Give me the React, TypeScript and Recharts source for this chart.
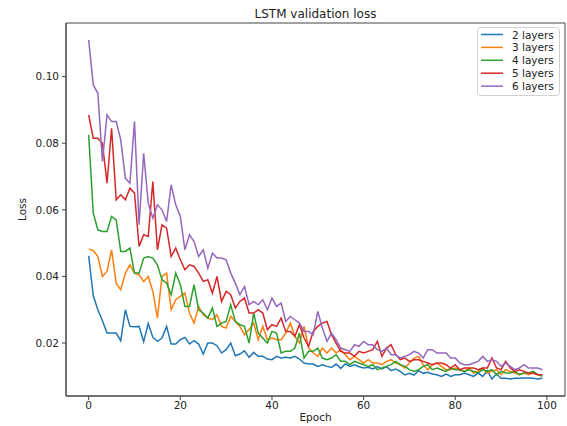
import React from 'react';
import { LineChart, Line, XAxis, YAxis, ReferenceArea, Label, Customized } from 'recharts';

const epochs: number[] = Array.from({ length: 100 }, (_, i) => i);

const layers2 = [
  0.0462, 0.0342, 0.030, 0.0267, 0.023, 0.023, 0.023, 0.0207, 0.030, 0.025,
  0.0249, 0.025, 0.0204, 0.0259, 0.0217, 0.0205, 0.0215, 0.025, 0.0197, 0.0197,
  0.021, 0.0217, 0.0197, 0.0207, 0.0197, 0.0167, 0.020, 0.020, 0.0192, 0.017,
  0.018, 0.020, 0.0162, 0.0167, 0.0177, 0.0157, 0.0172, 0.016, 0.016, 0.0152,
  0.015, 0.016, 0.0155, 0.0157, 0.0155, 0.016, 0.0152, 0.014, 0.0137, 0.0137,
  0.013, 0.0135, 0.013, 0.0127, 0.0137, 0.0124, 0.0137, 0.013, 0.0135, 0.0129,
  0.0125, 0.0127, 0.0122, 0.0129, 0.0122, 0.0129, 0.0117, 0.0122, 0.0115, 0.0104,
  0.0109, 0.0104, 0.0117, 0.0109, 0.0112, 0.0107, 0.0105, 0.010, 0.0107, 0.010,
  0.0105, 0.0105, 0.011, 0.0105, 0.010, 0.011, 0.010, 0.0117, 0.0092, 0.0107,
  0.0094, 0.0094, 0.0092, 0.0094, 0.0094, 0.0095, 0.0095, 0.0094, 0.0092, 0.0094,
];

const layers3 = [
  0.0482, 0.0478, 0.046, 0.040, 0.0415, 0.048, 0.038, 0.036, 0.041, 0.0435,
  0.041, 0.0405, 0.0385, 0.040, 0.0355, 0.0275, 0.040, 0.041, 0.030, 0.033,
  0.034, 0.035, 0.029, 0.026, 0.031, 0.0285, 0.0275, 0.027, 0.0285, 0.025,
  0.0245, 0.028, 0.0265, 0.025, 0.0225, 0.024, 0.026, 0.021, 0.025, 0.021,
  0.0215, 0.021, 0.021, 0.023, 0.026, 0.022, 0.020, 0.025, 0.0185, 0.017,
  0.016, 0.0185, 0.017, 0.0185, 0.017, 0.018, 0.0165, 0.015, 0.016, 0.015,
  0.014, 0.015, 0.014, 0.014, 0.0135, 0.0145, 0.015, 0.014, 0.0135, 0.0125,
  0.014, 0.0155, 0.016, 0.0135, 0.012, 0.0135, 0.014, 0.013, 0.012, 0.012,
  0.0125, 0.012, 0.0115, 0.0125, 0.011, 0.0115, 0.0125, 0.011, 0.0115, 0.012,
  0.0105, 0.012, 0.0115, 0.011, 0.0105, 0.011, 0.0105, 0.011, 0.0105, 0.0105,
];

const layers4 = [
  0.0825, 0.059, 0.054, 0.0535, 0.0535, 0.058, 0.057, 0.0475, 0.0475, 0.0485,
  0.041, 0.041, 0.0455, 0.046, 0.0455, 0.0435, 0.039, 0.038, 0.0345, 0.041,
  0.0375, 0.031, 0.031, 0.0375, 0.030, 0.029, 0.0275, 0.0305, 0.025, 0.026,
  0.0265, 0.0315, 0.0265, 0.0255, 0.025, 0.020, 0.029, 0.023, 0.0215, 0.020,
  0.0235, 0.023, 0.017, 0.0175, 0.0175, 0.0185, 0.023, 0.0155, 0.0175, 0.0175,
  0.0185, 0.0155, 0.015, 0.0155, 0.0165, 0.0145, 0.0145, 0.0135, 0.0145, 0.014,
  0.0135, 0.013, 0.0135, 0.012, 0.0125, 0.013, 0.0135, 0.0145, 0.0135, 0.013,
  0.012, 0.0115, 0.012, 0.013, 0.0135, 0.012, 0.0125, 0.012, 0.0115, 0.0125,
  0.012, 0.012, 0.0115, 0.012, 0.0115, 0.011, 0.012, 0.0115, 0.012, 0.0105,
  0.0115, 0.011, 0.011, 0.0115, 0.0105, 0.011, 0.011, 0.0115, 0.0105, 0.010,
];

const layers5 = [
  0.0885, 0.0815, 0.0815, 0.080, 0.068, 0.0845, 0.063, 0.0645, 0.063, 0.0665,
  0.065, 0.049, 0.0525, 0.052, 0.0685, 0.048, 0.0555, 0.0545, 0.046, 0.0485,
  0.045, 0.042, 0.0435, 0.043, 0.041, 0.0385, 0.039, 0.035, 0.040, 0.0325,
  0.0355, 0.0345, 0.0305, 0.0325, 0.0335, 0.029, 0.029, 0.030, 0.029, 0.024,
  0.0255, 0.025, 0.0275, 0.0235, 0.0235, 0.022, 0.0255, 0.0215, 0.019, 0.0235,
  0.025, 0.026, 0.0265, 0.0225, 0.020, 0.0175, 0.017, 0.017, 0.016, 0.0175,
  0.017, 0.0175, 0.018, 0.0205, 0.016, 0.0185, 0.0195, 0.0165, 0.015, 0.0155,
  0.0145, 0.015, 0.015, 0.0145, 0.014, 0.0135, 0.014, 0.014, 0.0135, 0.0125,
  0.0135, 0.012, 0.0125, 0.0125, 0.0125, 0.012, 0.0125, 0.0125, 0.0155, 0.0125,
  0.012, 0.0145, 0.0125, 0.0115, 0.012, 0.0115, 0.011, 0.011, 0.0105, 0.0105,
];

const layers6 = [
  0.111, 0.0975, 0.095, 0.0745, 0.0885, 0.0865, 0.0865, 0.081, 0.0695, 0.068,
  0.0865, 0.0555, 0.077, 0.062, 0.0575, 0.0615, 0.060, 0.0565, 0.0675, 0.0615,
  0.058, 0.048, 0.0525, 0.0505, 0.046, 0.048, 0.0425, 0.047, 0.0455, 0.0455,
  0.045, 0.041, 0.038, 0.0345, 0.037, 0.0315, 0.0325, 0.0315, 0.033, 0.030,
  0.0335, 0.031, 0.032, 0.0265, 0.028, 0.027, 0.026, 0.0235, 0.0235, 0.0225,
  0.0295, 0.0245, 0.0205, 0.023, 0.021, 0.0185, 0.018, 0.0175, 0.0195, 0.019,
  0.0205, 0.0195, 0.0195, 0.018, 0.0175, 0.0185, 0.0165, 0.0165, 0.0155, 0.016,
  0.0165, 0.0175, 0.017, 0.0155, 0.018, 0.018, 0.017, 0.017, 0.017, 0.0155,
  0.0155, 0.014, 0.0135, 0.0135, 0.014, 0.0145, 0.016, 0.0145, 0.015, 0.0145,
  0.013, 0.014, 0.013, 0.012, 0.0125, 0.0135, 0.0125, 0.0125, 0.0125, 0.012,
];

const seriesNames = ['2 layers', '3 layers', '4 layers', '5 layers', '6 layers'];
const seriesValues = [layers2, layers3, layers4, layers5, layers6];
const seriesColors = ['#1f77b4', '#ff7f0e', '#2ca02c', '#d62728', '#9467bd'];

const xTicks = [0, 20, 40, 60, 80, 100];
const yTicks = [0.02, 0.04, 0.06, 0.08, 0.1];
const xDomain: [number, number] = [-4.95, 103.95];
const yDomain: [number, number] = [0.0041, 0.1161];

const data = epochs.map((e, i) => {
  const row: Record<string, number> = { epoch: e };
  seriesNames.forEach((n, k) => {
    row[n] = seriesValues[k][i];
  });
  return row;
});

const FONT = '"DejaVu Sans", sans-serif';
const AXIS = '#444';

const LegendBox = () => (
  <g>
    <rect x={477.5} y={27.5} width={82} height={68} rx={3} ry={3} fill="#fff" stroke="#d0d0d0" strokeWidth={1} />
    {seriesNames.map((n, k) => {
      const cy = 34.5 + k * 12.9;
      return (
        <g key={n}>
          <line x1={481} y1={cy} x2={503} y2={cy} stroke={seriesColors[k]} strokeWidth={1.5} />
          <text x={512} y={cy} dominantBaseline="central" fontFamily={FONT} fontSize={10.5} fill="#222">
            {n}
          </text>
        </g>
      );
    })}
  </g>
);

const Title = () => (
  <text x={315.5} y={18} textAnchor="middle" fontFamily={FONT} fontSize={12} fill="#222">
    LSTM validation loss
  </text>
);

export default function App() {
  return (
    <div style={{ position: 'absolute', left: 0, top: 0, background: '#fff' }}>
      <LineChart
        width={567}
        height={426}
        data={data}
        margin={{ top: 23, right: 2, left: 0, bottom: 0 }}
      >
        <XAxis
          dataKey="epoch"
          type="number"
          domain={xDomain}
          ticks={xTicks}
          allowDataOverflow
          height={30}
          tickSize={4}
          tickMargin={2}
          stroke={AXIS}
          tick={{ fontFamily: FONT, fontSize: 10.5, fill: '#222' }}
          tickLine={{ stroke: AXIS }}
          axisLine={{ stroke: AXIS }}
        >
          <Label
            content={({ viewBox }: any) => (
              <text
                x={viewBox.x + viewBox.width / 2}
                y={viewBox.y + 25}
                textAnchor="middle"
                fontFamily={FONT}
                fontSize={10.5}
                fill="#222"
              >
                Epoch
              </text>
            )}
          />
        </XAxis>
        <YAxis
          type="number"
          domain={yDomain}
          ticks={yTicks}
          allowDataOverflow
          width={66}
          tickSize={4}
          tickMargin={3}
          stroke={AXIS}
          tickFormatter={(v: number) => v.toFixed(2)}
          tick={{ fontFamily: FONT, fontSize: 10.5, fill: '#222' }}
          tickLine={{ stroke: AXIS }}
          axisLine={{ stroke: AXIS }}
        >
          <Label
            content={({ viewBox }: any) => {
              const cx = 22;
              const cy = viewBox.y + viewBox.height / 2;
              return (
                <text
                  x={cx}
                  y={cy}
                  textAnchor="middle"
                  dominantBaseline="central"
                  transform={`rotate(-90, ${cx}, ${cy})`}
                  fontFamily={FONT}
                  fontSize={10.5}
                  fill="#222"
                >
                  Loss
                </text>
              );
            }}
          />
        </YAxis>
        <ReferenceArea
          x1={xDomain[0]}
          x2={xDomain[1]}
          y1={yDomain[0]}
          y2={yDomain[1]}
          fill="none"
          stroke={AXIS}
          strokeWidth={1}
          ifOverflow="visible"
        />
        {seriesNames.map((n, k) => (
          <Line
            key={n}
            dataKey={n}
            type="linear"
            stroke={seriesColors[k]}
            strokeWidth={1.5}
            dot={false}
            activeDot={false}
            isAnimationActive={false}
          />
        ))}
        <Customized component={LegendBox} />
        <Customized component={Title} />
      </LineChart>
    </div>
  );
}
